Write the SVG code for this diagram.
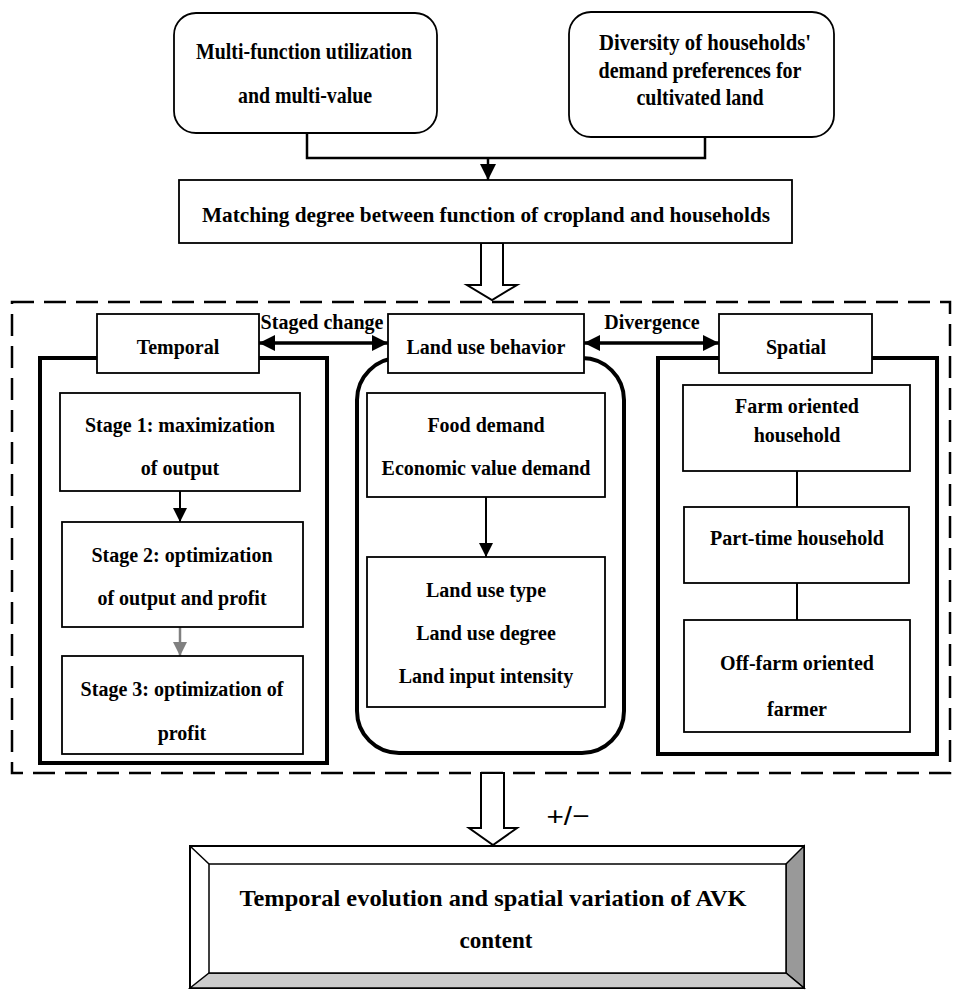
<svg xmlns="http://www.w3.org/2000/svg" width="958" height="990" viewBox="0 0 958 990">
<defs>
<style>
text{font-family:"Liberation Serif","Times New Roman",serif;font-weight:bold;font-size:20px;fill:#000;text-anchor:middle}
.top{font-size:23px}
.box{fill:#fff;stroke:#000;stroke-width:1.8}
.frame{fill:none;stroke:#000;stroke-width:4}
.conn{fill:none;stroke:#000;stroke-width:2.5}
.hollow{fill:#fff;stroke:#000;stroke-width:2}
</style>
<marker id="ah" markerUnits="userSpaceOnUse" markerWidth="16" markerHeight="16" viewBox="0 0 16 16" refX="16" refY="8" orient="auto-start-reverse">
<path d="M0,0 L16,8 L0,16 Z" fill="#000"/>
</marker>
<marker id="ahs" markerUnits="userSpaceOnUse" markerWidth="14" markerHeight="14" viewBox="0 0 14 14" refX="14" refY="7" orient="auto">
<path d="M0,0 L14,7 L0,14 Z" fill="#000"/>
</marker>
<marker id="ahg" markerUnits="userSpaceOnUse" markerWidth="14" markerHeight="14" viewBox="0 0 14 14" refX="14" refY="7" orient="auto">
<path d="M0,0 L14,7 L0,14 Z" fill="#808080"/>
</marker>
</defs>
<rect width="958" height="990" fill="#fff"/>

<g id="dashed-region">
<rect x="12" y="302" width="938" height="471" fill="none" stroke="#000" stroke-width="2.5" stroke-dasharray="22,10"/>
</g>

<g id="connectors">
<polyline class="conn" points="307,133 307,158 705,158 705,137"/>
<line class="conn" x1="488" y1="158" x2="488" y2="180" marker-end="url(#ah)"/>
<polygon class="hollow" points="481,243 503,243 503,285 517,285 492,300 467,285 481,285"/>
<line x1="259" y1="343" x2="388" y2="343" stroke="#000" stroke-width="3.5" marker-start="url(#ah)" marker-end="url(#ah)"/>
<line x1="584" y1="343" x2="719" y2="343" stroke="#000" stroke-width="3.5" marker-start="url(#ah)" marker-end="url(#ah)"/>
<line x1="180" y1="491" x2="180" y2="522" stroke="#000" stroke-width="2" marker-end="url(#ahs)"/>
<line x1="180" y1="627" x2="180" y2="656" stroke="#808080" stroke-width="2.5" marker-end="url(#ahg)"/>
<line x1="486" y1="497" x2="486" y2="557" stroke="#000" stroke-width="2" marker-end="url(#ahs)"/>
<line x1="797" y1="471" x2="797" y2="507" stroke="#000" stroke-width="2"/>
<line x1="797" y1="583" x2="797" y2="620" stroke="#000" stroke-width="2"/>
<polygon class="hollow" points="481,773 504,773 504,828 517,828 493,845 469,828 481,828"/>
<text x="568" y="825" textLength="43" lengthAdjust="spacingAndGlyphs" style="font-family:'Liberation Sans',Arial,sans-serif;font-weight:normal;font-size:26px">+/−</text>
<text x="322" y="329">Staged change</text>
<text x="652" y="329">Divergence</text>
</g>

<g id="multi-function">
<rect class="box" x="174" y="13" width="263" height="120" rx="22" stroke-width="2"/>
<text class="top" x="304" y="59" textLength="216" lengthAdjust="spacingAndGlyphs">Multi-function utilization</text>
<text class="top" x="305" y="103" textLength="134" lengthAdjust="spacingAndGlyphs">and multi-value</text>
</g>

<g id="diversity">
<rect class="box" x="569" y="12" width="265" height="125" rx="22" stroke-width="2"/>
<text class="top" x="705" y="50" textLength="212" lengthAdjust="spacingAndGlyphs">Diversity of households'</text>
<text class="top" x="700" y="78" textLength="203" lengthAdjust="spacingAndGlyphs">demand preferences for</text>
<text class="top" x="700" y="105" textLength="127" lengthAdjust="spacingAndGlyphs">cultivated land</text>
</g>

<g id="matching">
<rect class="box" x="179" y="180" width="613" height="63"/>
<text class="top" x="486" y="222" style="font-size:21px" textLength="568" lengthAdjust="spacingAndGlyphs">Matching degree between function of cropland and households</text>
</g>

<g id="temporal">
<rect class="frame" x="40" y="358" width="287" height="405"/>
<rect class="box" x="97" y="314" width="162" height="59"/>
<text x="178" y="354">Temporal</text>
</g>

<g id="stage1">
<rect class="box" x="60" y="393" width="240" height="98"/>
<text x="180" y="432">Stage 1: maximization</text>
<text x="180" y="475">of output</text>
</g>

<g id="stage2">
<rect class="box" x="62" y="522" width="241" height="105"/>
<text x="182" y="562">Stage 2: optimization</text>
<text x="182" y="605">of output and profit</text>
</g>

<g id="stage3">
<rect class="box" x="62" y="656" width="241" height="98"/>
<text x="182" y="696">Stage 3: optimization of</text>
<text x="182" y="740">profit</text>
</g>

<g id="land-use-behavior">
<rect class="frame" x="357" y="358" width="267" height="395" rx="42"/>
<rect class="box" x="388" y="314" width="196" height="59"/>
<text x="486" y="354">Land use behavior</text>
</g>

<g id="demand">
<rect class="box" x="367" y="393" width="238" height="104"/>
<text x="486" y="432">Food demand</text>
<text x="486" y="475">Economic value demand</text>
</g>

<g id="land-use-type">
<rect class="box" x="367" y="557" width="238" height="150"/>
<text x="486" y="597">Land use type</text>
<text x="486" y="640">Land use degree</text>
<text x="486" y="683">Land input intensity</text>
</g>

<g id="spatial">
<rect class="frame" x="658" y="358" width="279" height="396"/>
<rect class="box" x="719" y="314" width="153" height="59"/>
<text x="796" y="354">Spatial</text>
</g>

<g id="farm-oriented">
<rect class="box" x="683" y="385" width="227" height="86"/>
<text x="797" y="413">Farm oriented</text>
<text x="797" y="442">household</text>
</g>

<g id="part-time">
<rect class="box" x="684" y="507" width="225" height="76"/>
<text x="797" y="545">Part-time household</text>
</g>

<g id="off-farm">
<rect class="box" x="684" y="620" width="226" height="112"/>
<text x="797" y="670">Off-farm oriented</text>
<text x="797" y="716">farmer</text>
</g>

<g id="avk-content">
<rect x="190" y="846" width="614" height="142" fill="#fff" stroke="#000" stroke-width="2"/>
<polygon points="804,846 786,864 786,973 804,988" fill="#999" stroke="#000" stroke-width="1.5"/>
<polygon points="190,988 209,973 786,973 804,988" fill="#ccc" stroke="#000" stroke-width="1.5"/>
<line x1="190" y1="846" x2="209" y2="864" stroke="#000" stroke-width="1.5"/>
<rect x="209" y="864" width="577" height="109" fill="#fff" stroke="#000" stroke-width="1.5"/>
<text class="top" x="493" y="906" textLength="507" lengthAdjust="spacingAndGlyphs">Temporal evolution and spatial variation of AVK</text>
<text class="top" x="496" y="948" textLength="73" lengthAdjust="spacingAndGlyphs">content</text>
</g>
</svg>
